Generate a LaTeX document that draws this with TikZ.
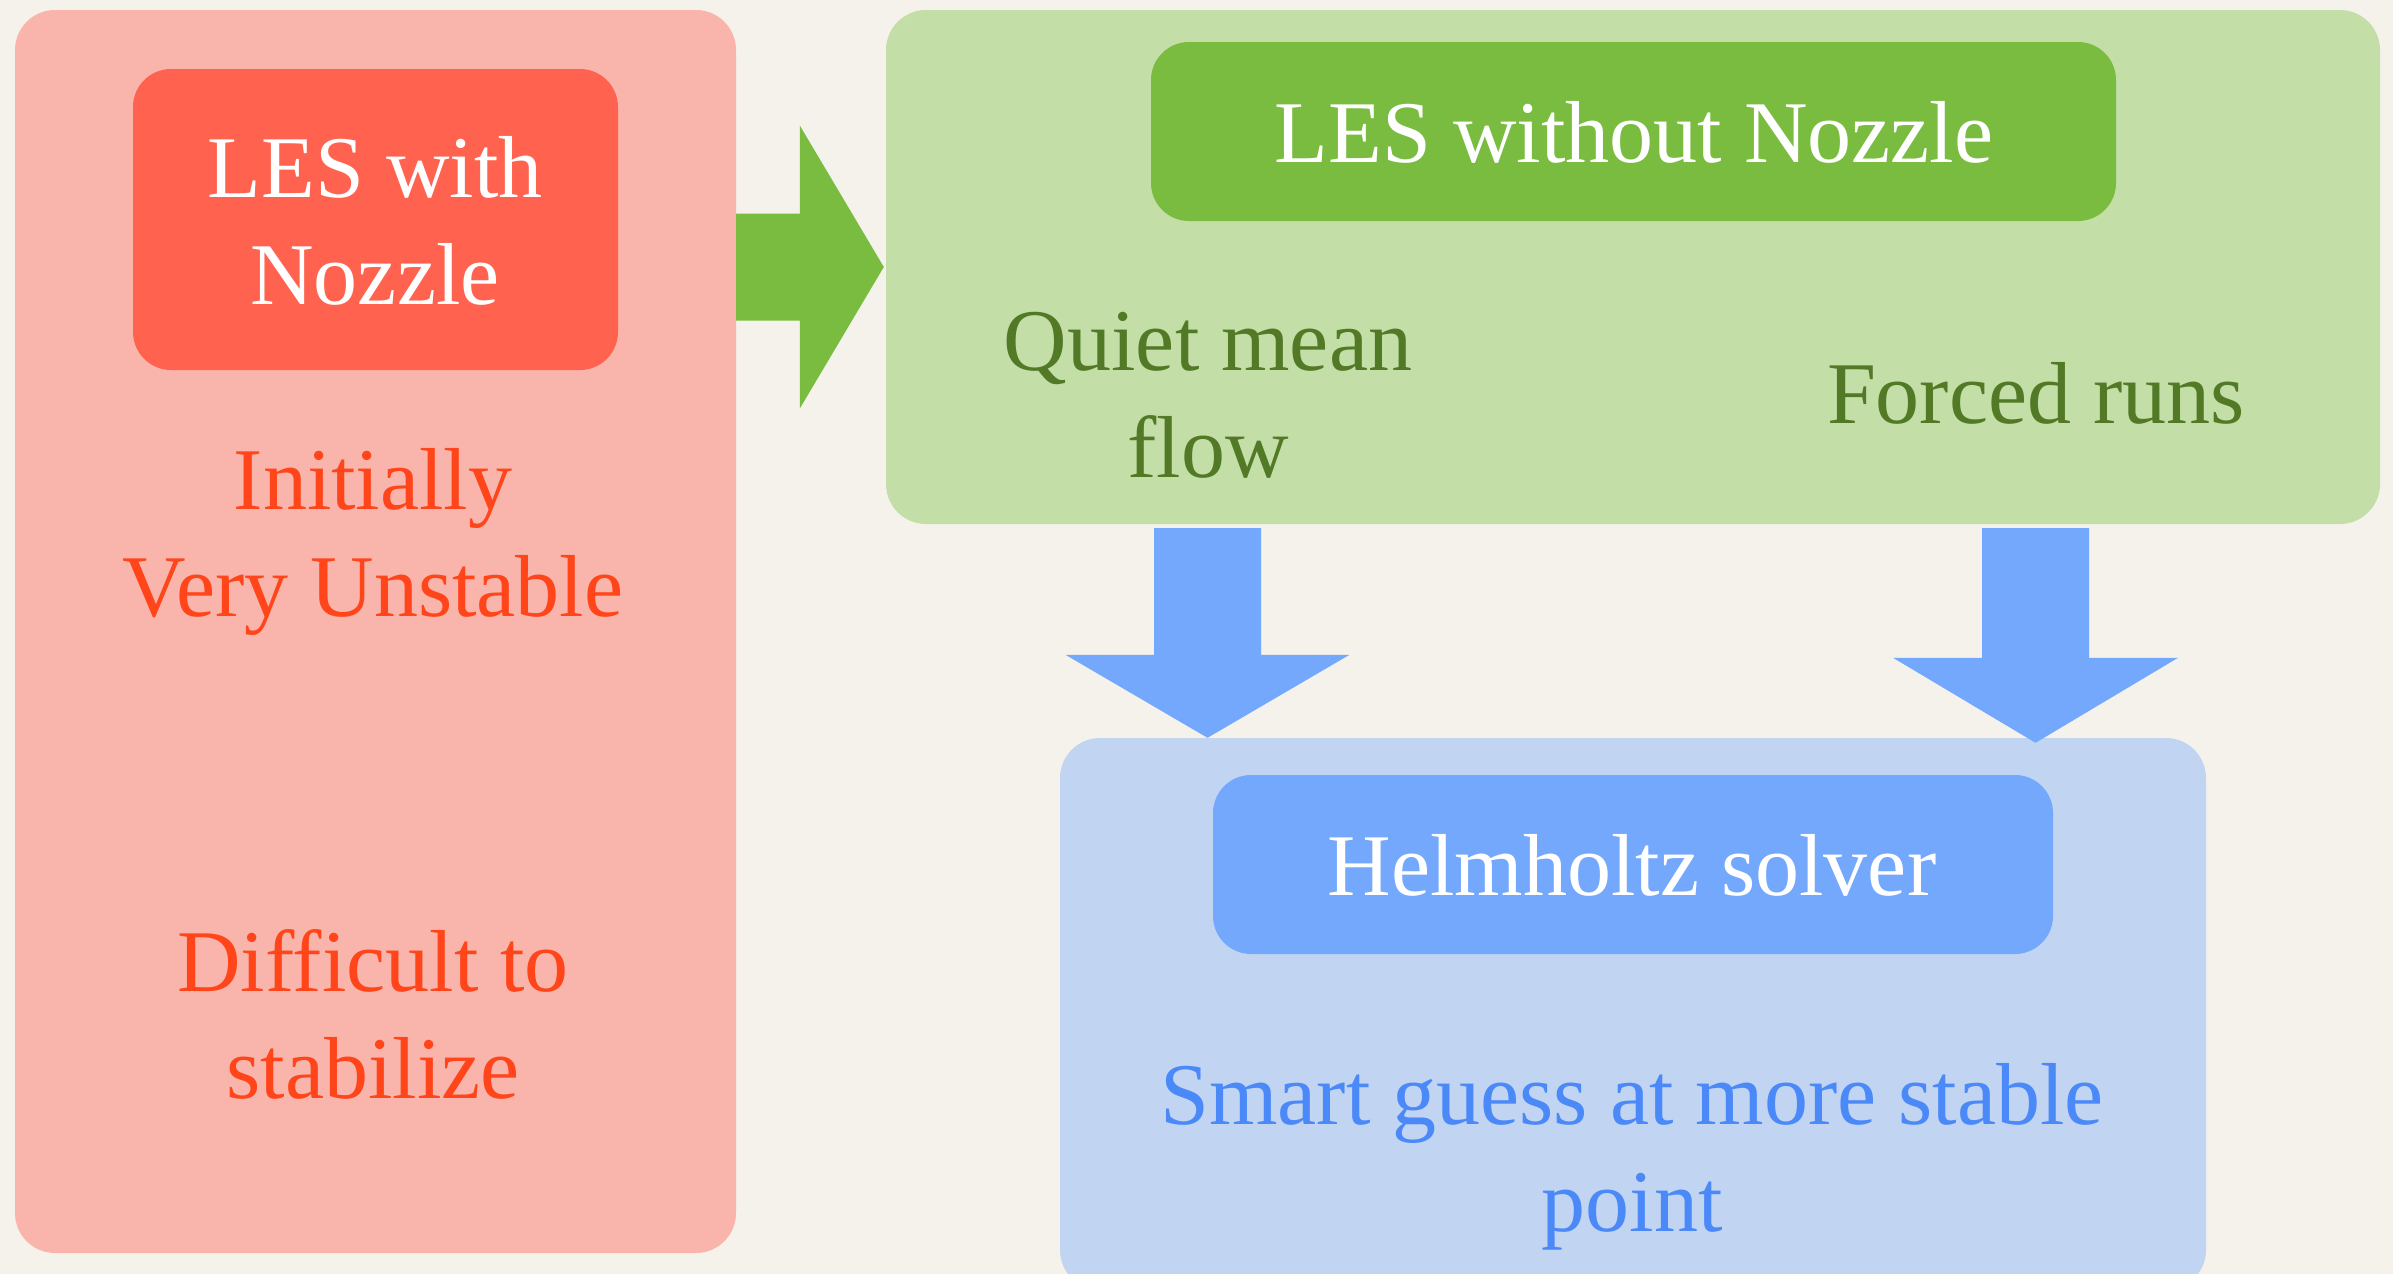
\documentclass[tikz,border=0pt]{standalone}
\usepackage{fontspec}
\setmainfont{Liberation Serif}
\usetikzlibrary{calc}
\definecolor{bg}{HTML}{F5F2EC}
\definecolor{redout}{HTML}{F9B5AB}
\definecolor{redin}{HTML}{FF6350}
\definecolor{redtxt}{HTML}{FF4519}
\definecolor{grout}{HTML}{C4DEA8}
\definecolor{grin}{HTML}{79BC40}
\definecolor{grtxt}{HTML}{527A26}
\definecolor{blout}{HTML}{C1D5F2}
\definecolor{blin}{HTML}{74A8FD}
\definecolor{bltxt}{HTML}{4B89F8}
\newcommand\twoline[2]{\begin{tabular}[t]{@{}c@{}}#1\\#2\end{tabular}}
\begin{document}
\begin{tikzpicture}[x=1pt,y=-1pt,
  box/.style={rounded corners=40pt, inner sep=0pt, draw=none},
  ibox/.style={rounded corners=38pt, inner sep=0pt, draw=none},
  lbl/.style={inner sep=0pt, anchor=base, font=\fontsize{88}{107}\selectfont},
]
\useasboundingbox (0,0) rectangle (2393,1274);
\fill[bg] (0,0) rectangle (2393,1274);
\clip (0,0) rectangle (2393,1274);
% boxes
\node[box, fill=redout, minimum width=721pt, minimum height=1243pt] (redbg) at (375.5,631.5) {};
\node[ibox, fill=redin, minimum width=485pt, minimum height=301pt] (redbox) at (375.5,219.5) {};
\node[box, fill=grout, minimum width=1494pt, minimum height=514pt] (grbg) at (1633,267) {};
\node[ibox, fill=grin, minimum width=965pt, minimum height=179pt] (grbox) at (1633.5,131.5) {};
\node[box, fill=blout, minimum width=1146pt, minimum height=552pt] (blbg) at (1633,1014) {};
\node[ibox, fill=blin, minimum width=840pt, minimum height=179pt] (blbox) at (1633,864.5) {};
% labels
\node[lbl, text=white] (nozzle) at (375,197) {\twoline{LES with}{Nozzle}};
\node[lbl, text=redtxt] (unstable) at (373,509) {\twoline{Initially}{Very Unstable}};
\node[lbl, text=redtxt] (difficult) at (373,991) {\twoline{Difficult to}{stabilize}};
\node[lbl, text=white] (nonozzle) at (1634,162) {LES without Nozzle};
\node[lbl, text=grtxt] (quiet) at (1208,370) {\twoline{Quiet mean}{flow}};
\node[lbl, text=grtxt] (forced) at (2036,423) {Forced runs};
\node[lbl, text=white] (helm) at (1632,895) {Helmholtz solver};
\node[lbl, text=bltxt] (smart) at (1632,1124) {\twoline{Smart guess at more stable}{point}};
% green block arrow
\coordinate (gs) at (redbg.east |- grbg.west);
\coordinate (gt) at ($(grbg.west)+(-2,0)$);
\fill[grin] ($(gs)+(0,-53.5)$) -- ($(gt)+(-84,-53.5)$) -- ($(gt)+(-84,-141.5)$) -- (gt)
  -- ($(gt)+(-84,141.5)$) -- ($(gt)+(-84,53.5)$) -- ($(gs)+(0,53.5)$) -- cycle;
% blue block arrows
\coordinate (b1s) at ($(grbg.south)+(-425.5,4)$);
\coordinate (b1t) at (b1s |- blbg.north);
\fill[blin] ($(b1s)+(-53.5,0)$) -- ($(b1t)+(-53.5,-83)$) -- ($(b1t)+(-142,-83)$) -- (b1t)
  -- ($(b1t)+(142,-83)$) -- ($(b1t)+(53.5,-83)$) -- ($(b1s)+(53.5,0)$) -- cycle;
\coordinate (b2s) at ($(grbg.south)+(402.5,4)$);
\coordinate (b2t) at ($(b2s |- blbg.north)+(0,5)$);
\fill[blin] ($(b2s)+(-53.5,0)$) -- ($(b2t)+(-53.5,-85)$) -- ($(b2t)+(-142.5,-85)$) -- (b2t)
  -- ($(b2t)+(142.5,-85)$) -- ($(b2t)+(53.5,-85)$) -- ($(b2s)+(53.5,0)$) -- cycle;
\end{tikzpicture}
\end{document}
